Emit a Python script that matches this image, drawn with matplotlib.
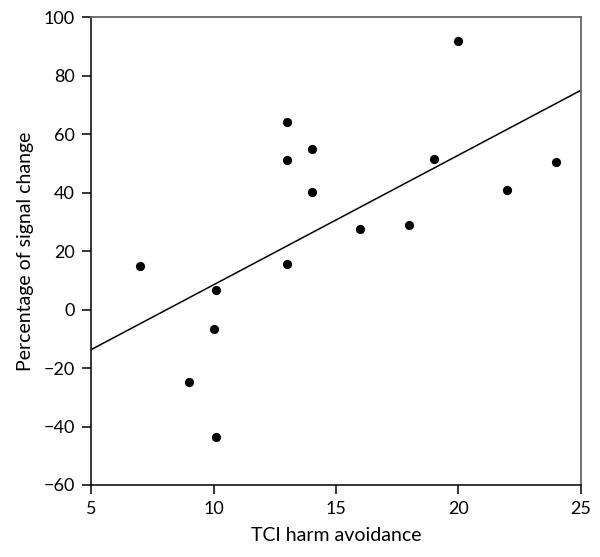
import numpy as np
import matplotlib
matplotlib.use("Agg")
import matplotlib.pyplot as plt

# harm avoidance score vs % signal change
harm_avoid = [7, 9, 10, 10.1, 10.1, 13, 13, 13, 14, 14, 16, 18, 19, 20, 22, 24]
signal_chg = [15.0, -24.6, -6.6, 6.8, -43.5, 64.1, 51.2, 15.7, 55.1, 40.3, 27.7, 28.9, 51.6, 92.1, 40.9, 50.5]

# fitted line endpoints
fit_x = [5, 25]
fit_y = [-13.7, 75.1]

x_ticks = [5, 10, 15, 20, 25]
y_ticks = [-60, -40, -20, 0, 20, 40, 60, 80, 100]

plt.rcParams["font.family"] = ["Lato", "DejaVu Sans"]

fig = plt.figure(figsize=(6, 5.57), dpi=100)
ax = fig.add_axes([0.1517, 0.1293, 0.8166, 0.8393])

ax.plot(fit_x, fit_y, color="black", lw=1.1)
ax.scatter(harm_avoid, signal_chg, s=44, color="black", zorder=3, linewidths=0)

ax.set_xlim(5, 25)
ax.set_ylim(-60, 100)
ax.set_xticks(x_ticks)
ax.set_yticks(y_ticks)
ax.tick_params(direction="out", length=6.5, width=1.1, labelsize=13, pad=5, color="black")
for s in ["left", "bottom"]:
    ax.spines[s].set_color("black")
    ax.spines[s].set_linewidth(1.1)
for s in ["top", "right"]:
    ax.spines[s].set_color("#666666")
    ax.spines[s].set_linewidth(1.3)

ax.set_xlabel("TCI harm avoidance", fontsize=14, labelpad=7)
ax.set_ylabel("Percentage of signal change", fontsize=14, labelpad=7)

fig.savefig("out.png", dpi=100)
